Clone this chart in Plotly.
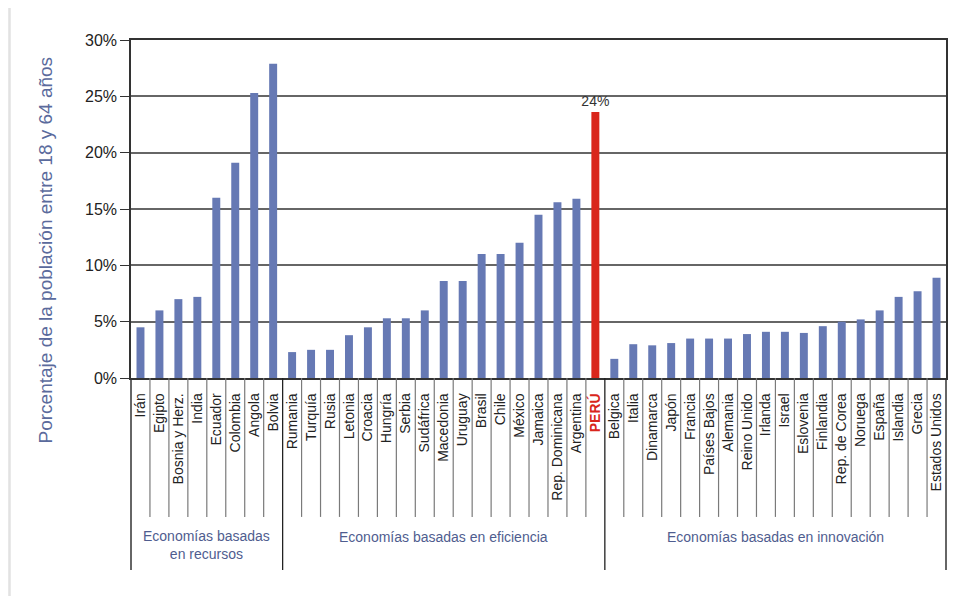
import plotly.graph_objects as go

# ---- data ----
recursos = ["Irán", "Egipto", "Bosnia y Herz.", "India", "Ecuador", "Colombia", "Angola", "Bolvia"]
recursos_vals = [4.5, 6.0, 7.0, 7.2, 16.0, 19.1, 25.3, 27.9]

eficiencia = ["Rumania", "Turquía", "Rusia", "Letonia", "Croacia", "Hungría", "Serbia", "Sudáfrica",
              "Macedonia", "Uruguay", "Brasil", "Chile", "México", "Jamaica", "Rep. Dominicana",
              "Argentina", "PERÚ"]
eficiencia_vals = [2.3, 2.5, 2.5, 3.8, 4.5, 5.3, 5.3, 6.0, 8.6, 8.6, 11.0, 11.0, 12.0, 14.5, 15.6, 15.9, 23.6]

innovacion = ["Belgica", "Italia", "Dinamarca", "Japón", "Francia", "Países Bajos", "Alemania",
              "Reino Unido", "Irlanda", "Israel", "Eslovenia", "Finlandia", "Rep. de Corea", "Noruega",
              "España", "Islandia", "Grecia", "Estados Unidos"]
innovacion_vals = [1.7, 3.0, 2.9, 3.1, 3.5, 3.5, 3.5, 3.9, 4.1, 4.1, 4.0, 4.6, 5.0, 5.2, 6.0, 7.2, 7.7, 8.9]

group_names = ["Economías basadas<br>en recursos", "Economías basadas en eficiencia",
               "Economías basadas en innovación"]
highlight = "PERÚ"
highlight_label = "24%"

y_ticks = [0, 5, 10, 15, 20, 25, 30]
y_title = "Porcentaje de la población entre 18 y 64 años"

# ---- build ----
countries = recursos + eficiencia + innovacion
values = recursos_vals + eficiencia_vals + innovacion_vals
groups = [recursos, eficiencia, innovacion]

BLUE = "#6679b4"
RED = "#d9261c"
colors = [RED if c == highlight else BLUE for c in countries]
texts = [highlight_label if c == highlight else "" for c in countries]
ticktext = [f'<b><span style="color:{RED}">{c}</span></b>' if c == highlight else c for c in countries]
idx = list(range(len(countries)))

fig = go.Figure()
fig.add_trace(go.Bar(
    x=idx, y=values, marker=dict(color=colors, line=dict(width=0)),
    text=texts, textposition="outside", cliponaxis=False, constraintext="none",
    textfont=dict(size=14, color="#333333", family="Liberation Sans"),
    hoverinfo="skip",
))

shapes = []
# separators between categories under the axis
bounds = []
start = 0
for g in groups:
    start += len(g)
    bounds.append(start - 0.5)
group_bounds = set(bounds[:-1])
for i in range(len(countries) - 1):
    b = i + 0.5
    long = b in group_bounds
    shapes.append(dict(type="line", xref="x", yref="paper", x0=b, x1=b, y0=0,
                       y1=-0.568 if long else -0.411,
                       line=dict(color="#222222" if long else "#7a7a7a", width=1.3 if long else 1.2)))
# left and right extensions of frame
for xp in (0, 1):
    shapes.append(dict(type="line", xref="paper", yref="paper", x0=xp, x1=xp, y0=-0.568, y1=0,
                       line=dict(color="#333333", width=1.5)))
# outer light frame
shapes.append(dict(type="rect", xref="paper", yref="paper", x0=-0.1491, x1=1.2, y0=-0.8, y1=1.1006,
                   line=dict(color="#e2e2e2", width=2.5), layer="below"))

annotations = []
lo = -0.5
for g, name in zip(groups, group_names):
    hi = lo + len(g)
    two = "<br>" in name
    annotations.append(dict(x=(lo + hi) / 2, y=-0.494 if two else -0.470, xref="x", yref="paper",
                            text=name, showarrow=False, xanchor="center", yanchor="middle",
                            font=dict(size=14, color="#4f5d8f", family="Liberation Sans")))
    lo = hi
annotations.append(dict(x=-0.1037, y=0.3787, xref="paper", yref="paper", text=y_title,
                        textangle=-90, showarrow=False, xanchor="center", yanchor="middle",
                        font=dict(size=19, color="#5a6a9c", family="Liberation Sans")))

fig.update_layout(
    width=960, height=588,
    margin=dict(l=123, r=22, t=32, b=218),
    paper_bgcolor="white", plot_bgcolor="white",
    showlegend=False, bargap=0.58,
    font=dict(family="Liberation Sans", color="#222222"),
    shapes=shapes, annotations=annotations,
)
fig.update_xaxes(
    range=[-0.5, len(countries) - 0.5], tickmode="array", tickvals=idx, ticktext=ticktext,
    tickangle=-90, ticks="", ticklabelstandoff=8,
    tickfont=dict(size=14, color="#222222", family="Liberation Sans"),
    showline=True, linecolor="#333333", linewidth=1.5, mirror=True,
    showgrid=False, zeroline=False,
)
fig.update_yaxes(
    range=[0, 30], tickmode="array", tickvals=y_ticks, ticktext=[f"{v}%" for v in y_ticks],
    ticks="outside", ticklen=9, tickcolor="#333333", tickwidth=1,
    tickfont=dict(size=16, color="#222222", family="Liberation Sans"),
    showline=True, linecolor="#333333", linewidth=1.5, mirror=True,
    showgrid=True, gridcolor="#666666", gridwidth=1.5, zeroline=False,
)

fig.write_html("out.html")
